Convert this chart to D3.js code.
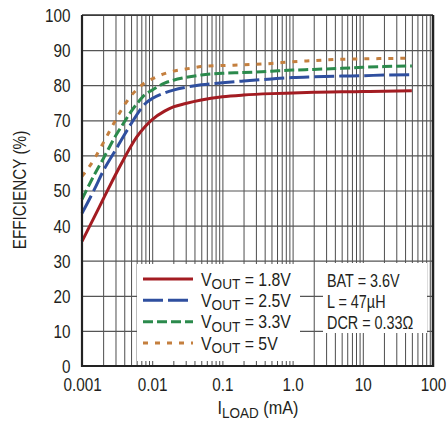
<!DOCTYPE html>
<html><head><meta charset="utf-8">
<script src="https://cdn.jsdelivr.net/npm/d3@7"></script>
<style>body{margin:0;background:#fff}</style>
</head><body><svg id="c" width="447" height="425"></svg>
<script>
// ---- data ----
const loads   = [0.001,0.0015,0.002,0.003,0.004,0.005,0.006,0.008,0.01,0.015,0.02,0.03,0.05,0.1,0.2,0.5,1,2,5,10,20,50];
const eff18V  = [35.5,42.5,47.5,54.5,59.2,62.7,65.2,68.3,70.2,72.6,73.8,74.8,75.8,76.7,77.2,77.6,77.8,78.0,78.1,78.2,78.3,78.4];
const eff25V  = [43.5,50.3,55.5,61.5,65.8,69.0,71.5,74.8,76.2,77.8,78.6,79.4,80.1,80.7,81.2,81.8,82.2,82.4,82.6,82.7,82.9,83.0];
const eff33V  = [47.5,54.5,59.0,65.5,69.5,72.5,74.6,77.4,78.6,80.6,81.4,82.2,82.9,83.4,83.6,84.0,84.3,84.5,84.8,85.1,85.3,85.5];
const eff5V   = [54.0,59.0,63.5,70.0,74.3,77.0,78.7,80.8,81.8,83.3,84.0,84.6,85.3,85.6,85.8,86.2,86.7,87.0,87.4,87.5,87.6,87.7];
const seriesNames = ["1.8V","2.5V","3.3V","5V"];
const xTicks = [0.001,0.01,0.1,1,10,100];
const xTickLabels = ["0.001","0.01","0.1","1.0","10","100"];
const yTicks = [0,10,20,30,40,50,60,70,80,90,100];
const conditions = ["BAT = 3.6V","L = 47µH","DCR = 0.33Ω"];

// ---- layout/style ----
const L = 82, R = 433, T = 15, B = 366;
const colors = ["#a31c22","#2f4f9f","#2b8a4c","#c47f3e"];
const dashes = [null,"20,5","10,4","5,7"];
const FONT = "'Liberation Sans', Arial, sans-serif";
const ink = "#231f20";
const SX = 0.85;

const svg = d3.select("#c");
svg.append("rect").attr("width",447).attr("height",425).attr("fill","#fff");

const x = d3.scaleLog().domain([0.001,100]).range([L,R]);
const y = d3.scaleLinear().domain([0,100]).range([B,T]);

// gridlines
const grid = svg.append("g");
grid.append("g").attr("transform",`translate(0,${B})`)
  .call(d3.axisBottom(x).tickValues(x.ticks()).tickSize(-(B-T)).tickFormat(""))
  .call(g=>g.select(".domain").remove())
  .call(g=>g.selectAll("line").attr("stroke","#4d4d4d").attr("stroke-width",1));
grid.append("g").attr("transform",`translate(${L},0)`)
  .call(d3.axisLeft(y).tickValues(yTicks).tickSize(-(R-L)).tickFormat(""))
  .call(g=>g.select(".domain").remove())
  .call(g=>g.selectAll("line").attr("stroke","#555").attr("stroke-width",1.2));

// legend boxes
svg.append("rect").attr("x",137).attr("y",264).attr("width",163).attr("height",97).attr("fill","#fff");
svg.append("rect").attr("x",323).attr("y",263).attr("width",104).attr("height",70).attr("fill","#fff");

// curves
const allSeries = [eff18V, eff25V, eff33V, eff5V];
const line = d3.line().x((d,i)=>x(loads[i])).y(d=>y(d)).curve(d3.curveMonotoneX);
allSeries.forEach((s,k)=>{
  svg.append("path").datum(s).attr("d",line).attr("fill","none")
    .attr("stroke",colors[k]).attr("stroke-width",3)
    .attr("stroke-dasharray",dashes[k]);
});

// frame
svg.append("line").attr("x1",L).attr("x2",R).attr("y1",T).attr("y2",T).attr("stroke","#333").attr("stroke-width",1.5);
svg.append("line").attr("x1",L).attr("x2",R).attr("y1",B).attr("y2",B).attr("stroke","#222").attr("stroke-width",2.2);
svg.append("line").attr("x1",L).attr("x2",L).attr("y1",T).attr("y2",B+1).attr("stroke","#222").attr("stroke-width",2.2);
svg.append("line").attr("x1",R).attr("x2",R).attr("y1",T).attr("y2",B+1).attr("stroke","#222").attr("stroke-width",2.5);

// axes labels
svg.append("g").attr("transform",`translate(${L},0)`)
  .call(d3.axisLeft(y).tickValues(yTicks).tickSize(0).tickFormat(d3.format("d")))
  .call(g=>g.select(".domain").remove())
  .call(g=>g.selectAll("text").attr("font-family",FONT).attr("font-size",18).attr("fill",ink)
     .attr("x",-11.5/SX).attr("dy","0.36em").attr("transform",`scale(${SX},1)`));
svg.append("g").attr("transform",`translate(0,${B})`)
  .call(d3.axisBottom(x).tickValues(xTicks).tickSize(0).tickFormat((d,i)=>xTickLabels[i]))
  .call(g=>g.select(".domain").remove())
  .call(g=>g.selectAll("text").attr("font-family",FONT).attr("font-size",18).attr("fill",ink)
     .attr("y",25.5).attr("dy",0).attr("transform",`scale(${SX},1)`));

// axis titles
const xt = svg.append("text").attr("font-family",FONT).attr("font-size",18).attr("fill",ink)
  .attr("text-anchor","middle").attr("transform",`translate(258,414) scale(0.9,1)`);
xt.append("tspan").text("I");
xt.append("tspan").attr("font-size",15).attr("dy",4).text("LOAD");
xt.append("tspan").attr("dy",-4).text(" (mA)");

svg.append("text").attr("font-family",FONT).attr("font-size",18).attr("fill",ink)
  .attr("text-anchor","middle").attr("transform",`translate(25.5,190) rotate(-90) scale(${SX},1)`)
  .text("EFFICIENCY (%)");

// legend
const rowY = [279,300.3,321.7,343];
seriesNames.forEach((n,k)=>{
  svg.append("line").attr("x1",143).attr("x2",193).attr("y1",rowY[k]).attr("y2",rowY[k])
    .attr("stroke",colors[k]).attr("stroke-width",3).attr("stroke-dasharray",dashes[k]);
  const t = svg.append("text").attr("font-family",FONT).attr("font-size",18).attr("fill",ink)
    .attr("transform",`translate(201,${rowY[k]+6.5}) scale(0.88,1)`);
  t.append("tspan").text("V");
  t.append("tspan").attr("font-size",15.5).attr("dy",3.5).text("OUT");
  t.append("tspan").attr("dy",-3.5).text(" = " + n);
});
conditions.forEach((c,i)=>{
  svg.append("text").attr("font-family",FONT).attr("font-size",18).attr("fill",ink)
    .attr("transform",`translate(327,${286.5+i*21.3}) scale(0.8,1)`).text(c);
});
</script></body></html>
